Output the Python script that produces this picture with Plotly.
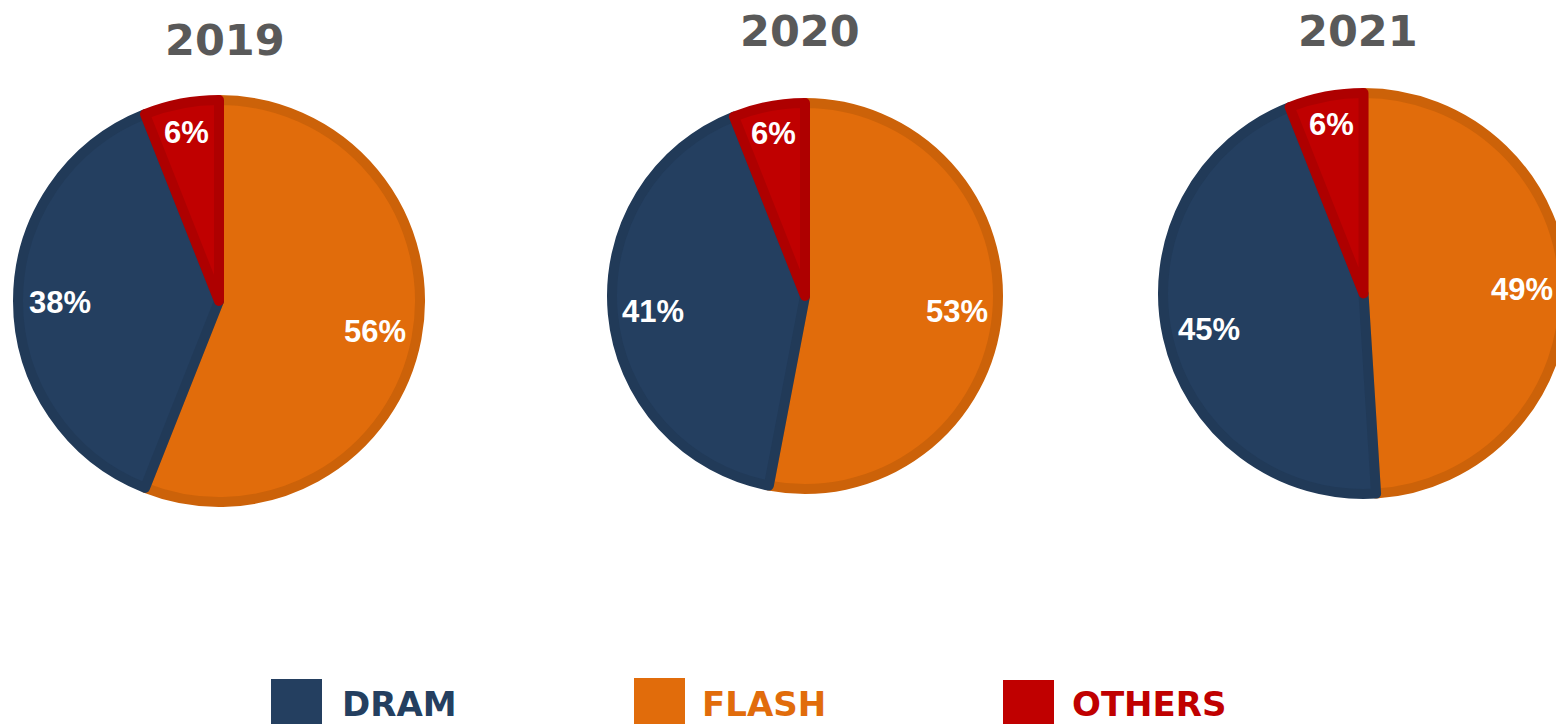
import math
import plotly.graph_objects as go

# ---- data ----
years = ["2019", "2020", "2021"]
categories = ["FLASH", "DRAM", "OTHERS"]
flash = [56, 53, 49]
dram = [38, 41, 45]
others = [6, 6, 6]

legend_order = ["DRAM", "FLASH", "OTHERS"]

fill_colors = {"FLASH": "#E16C0B", "DRAM": "#243F60", "OTHERS": "#C00000"}
line_colors = {"FLASH": "#CC6209", "DRAM": "#213A58", "OTHERS": "#AE0000"}

W, H = 1600, 724
LW = 10

# pie placement in pixels: (center x, center y from top, visible radius)
pie_px = [(219, 301, 206), (805, 296, 198), (1363.5, 293.5, 205.5)]
title_px = [(225, 40), (800, 31), (1358, 31)]

fig = go.Figure()
for i, yr in enumerate(years):
    cx, cy, R = pie_px[i]
    r = R - LW / 2
    vals = [flash[i], dram[i], others[i]]
    fig.add_trace(go.Pie(
        labels=categories,
        values=vals,
        sort=False,
        direction="clockwise",
        rotation=0,
        marker=dict(colors=[fill_colors[c] for c in categories],
                    line=dict(color=[line_colors[c] for c in categories], width=LW)),
        textinfo="none",
        domain=dict(x=[(cx - r) / W, (cx + r) / W],
                    y=[(H - cy - r) / H, (H - cy + r) / H]),
        showlegend=False,
        hoverinfo="label+percent",
    ))
    # data labels placed along each slice's mid-angle (Excel-like "inside end")
    total = sum(vals)
    cum = 0.0
    for v in vals:
        mid = (cum + v / 2) / total
        cum += v
        th = 2 * math.pi * mid
        rho = R * (0.84 if v / total < 0.1 else 0.77)
        px = cx + rho * math.sin(th)
        py = cy - rho * math.cos(th)
        fig.add_annotation(
            x=px / W, y=(H - py - 1) / H, xref="paper", yref="paper",
            text="<b>%d%%</b>" % round(100 * v / total), showarrow=False,
            xanchor="center", yanchor="middle",
            font=dict(family="Liberation Sans, Arial", size=31, color="white"),
        )
    tx, ty = title_px[i]
    fig.add_annotation(
        x=tx / W, y=(H - ty) / H, xref="paper", yref="paper",
        text="<b>%s</b>" % yr, showarrow=False, xanchor="center", yanchor="middle",
        font=dict(family="DejaVu Sans", size=43, color="#595959"),
    )

# legend built from the categories
leg_px = [(271, 679, 340), (634, 678, 700), (1003, 680, 1070)]
for name, (sx, sy, tx) in zip(legend_order, leg_px):
    fig.add_shape(type="rect", xref="paper", yref="paper",
                  x0=sx / W, x1=(sx + 51) / W, y0=(H - sy - 60) / H, y1=(H - sy) / H,
                  fillcolor=fill_colors[name], line=dict(width=0))
    fig.add_annotation(
        x=tx / W, y=(H - 704) / H, xref="paper", yref="paper",
        text="<b>%s</b>" % name, showarrow=False, xanchor="left", yanchor="middle",
        font=dict(family="DejaVu Sans", size=34, color=fill_colors[name]),
    )

fig.update_layout(
    width=W, height=H,
    margin=dict(l=0, r=0, t=0, b=0),
    paper_bgcolor="white", plot_bgcolor="white",
)

post = ("document.body.style.margin='0';document.body.style.overflow='hidden';"
        "var d=document.getElementById('{plot_id}');d.style.width='1556px';d.style.overflow='hidden';")
fig.write_html("out.html", post_script=post,
               config={"responsive": False, "displayModeBar": False})
